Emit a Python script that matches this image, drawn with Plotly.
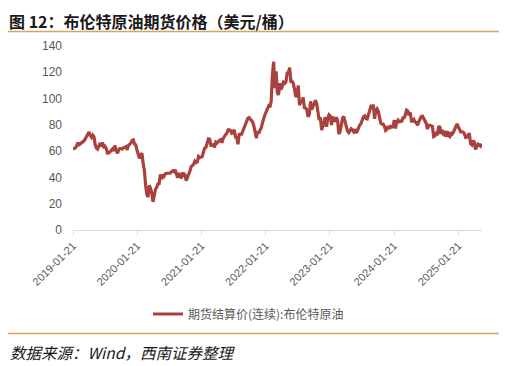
import pandas as pd
import plotly.graph_objects as go

# Weekly Brent futures settlement (USD/bbl), week starting 2019-01-21
start_date = "2019-01-21"
prices = [
    # 2019
    61.5, 62.0, 62.5, 64.0, 66.5, 65.0, 65.8, 67.0, 67.5, 67.8, 69.5, 71.0, 71.9, 74.5, 72.0, 70.6,
    72.2, 71.0, 65.0, 62.3, 61.5, 64.8, 66.2, 63.5, 66.7, 62.5, 63.5, 61.9, 58.5, 58.6, 59.3, 60.4,
    61.5, 60.2, 64.3, 61.9, 58.4, 60.5, 62.0, 62.0, 61.7, 62.5, 63.3, 63.4, 61.0, 64.4, 65.2, 66.1,
    68.2, 68.6,
    # 2020
    65.4, 64.8, 60.7, 58.2, 54.5, 57.3, 58.5, 50.5, 45.3, 33.9, 27.0, 25.0, 34.1, 31.5, 28.1, 21.4,
    26.4, 31.0, 32.5, 35.1, 35.3, 42.3, 38.7, 42.2, 41.0, 42.8, 43.2, 43.1, 43.3, 43.3, 44.4, 45.0,
    44.4, 45.8, 42.7, 39.8, 43.2, 41.9, 39.3, 42.9, 42.9, 41.8, 37.5, 39.5, 42.8, 44.9, 48.2, 49.3,
    50.0, 52.3, 51.3, 51.8,
    # 2021
    55.9, 55.1, 55.4, 55.9, 59.3, 62.4, 62.9, 66.1, 69.4, 69.2, 64.5, 64.6, 64.9, 62.9, 66.8, 66.1,
    67.3, 68.3, 68.7, 66.4, 69.6, 71.9, 72.7, 73.5, 76.2, 76.2, 75.6, 73.6, 74.1, 76.3, 70.7, 70.6,
    65.2, 72.7, 72.6, 72.9, 75.3, 78.1, 79.3, 82.4, 84.9, 85.5, 84.4, 82.7, 82.2, 78.9, 72.7, 69.9,
    75.2, 73.5, 76.1, 77.8,
    # 2022
    81.8, 86.1, 87.9, 90.0, 93.3, 94.4, 93.5, 97.9, 118.1, 128.0, 107.9, 120.7, 104.4, 102.8, 111.7, 106.7,
    109.3, 112.4, 111.6, 112.6, 119.4, 119.7, 123.6, 113.1, 113.1, 111.6, 107.0, 101.2, 103.2, 110.0, 94.9, 98.2,
    96.7, 100.9, 93.0, 92.8, 91.4, 86.2, 88.0, 97.9, 91.6, 93.5, 95.8, 98.6, 96.0, 87.6, 83.6, 85.6,
    76.1, 79.0, 84.0, 85.9,
    # 2023
    78.6, 85.3, 87.6, 86.7, 79.9, 86.4, 83.0, 83.2, 85.8, 82.8, 73.0, 75.0, 79.8, 85.1, 86.3, 81.7,
    79.5, 75.3, 74.2, 75.6, 77.0, 76.1, 74.8, 76.6, 73.9, 75.4, 78.5, 79.9, 81.1, 84.9, 86.2, 86.8,
    84.8, 84.5, 88.6, 90.7, 93.9, 93.3, 95.3, 84.6, 90.9, 92.2, 90.5, 84.9, 81.4, 80.6, 80.6, 78.9,
    75.8, 76.6, 79.1, 77.0,
    # 2024
    78.8, 78.3, 78.6, 83.6, 77.3, 82.2, 83.5, 81.6, 83.6, 82.1, 85.3, 85.4, 87.5, 91.2, 90.5, 87.3,
    89.5, 82.8, 82.8, 84.0, 82.1, 81.6, 79.6, 82.6, 85.2, 86.4, 86.5, 85.0, 82.6, 81.1, 76.8, 79.7,
    79.7, 79.0, 78.8, 71.1, 71.6, 74.5, 72.0, 78.1, 79.0, 73.1, 76.1, 73.1, 73.9, 71.0, 75.2, 71.8,
    71.1, 74.5, 72.9, 74.2, 76.5,
    # 2025
    79.8, 80.8, 78.5, 76.8, 74.7, 74.7, 74.4, 73.2, 70.4, 70.6, 72.2, 73.6, 65.6, 64.8, 68.0, 66.9,
    61.3, 63.9, 65.4, 64.8, 63.9, 65.6,
]
dates = pd.date_range(start_date, periods=len(prices), freq="7D")

tick_vals = ["2019-01-21", "2020-01-21", "2021-01-21", "2022-01-21",
             "2023-01-21", "2024-01-21", "2025-01-21"]
y_ticks = [0, 20, 40, 60, 80, 100, 120, 140]
series_name = "期货结算价(连续):布伦特原油"

line_color = "#A9423E"
gold = "#D9A55B"
grey = "#595959"

fig = go.Figure()
fig.add_trace(go.Scatter(x=dates, y=prices, mode="lines", name=series_name,
                         line=dict(color=line_color, width=3.2)))

# page has an 8px body margin; figure pixel = page pixel - 8
OFF = 8
W, H = 507 - OFF, 366 - OFF
L = 73 - OFF
R = W - (482 - OFF)
T = 46 - OFF
B = H - (230 - OFF)
pw = W - L - R
ph = H - T - B

def px_x(p):
    return (p - OFF - L) / pw

def px_y(p):
    return (H - B - (p - OFF)) / ph

fig.update_layout(
    width=W, height=H,
    margin=dict(l=L, r=R, t=T, b=B),
    paper_bgcolor="white", plot_bgcolor="white",
    font=dict(family="Noto Sans CJK SC, Liberation Sans, sans-serif", color=grey, size=12),
    showlegend=True,
    legend=dict(orientation="h", x=px_x(148), y=px_y(314), xanchor="left", yanchor="middle",
                font=dict(size=12, color=grey), bgcolor="rgba(0,0,0,0)"),
    xaxis=dict(type="date", range=["2019-01-21", "2025-06-04"],
               tickvals=tick_vals, ticktext=tick_vals, tickangle=-45,
               showgrid=False, zeroline=False, showline=True, linecolor="#D9D9D9", linewidth=1,
               ticks="outside", ticklen=4, tickcolor="#D9D9D9",
               tickfont=dict(family="Liberation Sans, Arial, sans-serif", size=11, color=grey)),
    yaxis=dict(range=[0, 140], tickvals=y_ticks, showgrid=False, zeroline=False,
               showline=False, ticks="", ticklabelstandoff=10,
               tickfont=dict(family="Liberation Sans, Arial, sans-serif", size=12, color=grey)),
    shapes=[
        dict(type="line", xref="paper", yref="paper", x0=px_x(5), x1=px_x(502),
             y0=px_y(31.5), y1=px_y(31.5), line=dict(color=gold, width=1.5)),
        dict(type="line", xref="paper", yref="paper", x0=px_x(5), x1=px_x(502),
             y0=px_y(333.5), y1=px_y(333.5), line=dict(color=gold, width=1.5)),
    ],
    annotations=[
        dict(text="<b>图 12：布伦特原油期货价格（美元/桶）</b>", xref="paper", yref="paper",
             x=px_x(8), y=px_y(OFF), xanchor="left", yanchor="top", showarrow=False,
             borderpad=0,
             font=dict(family="Noto Sans CJK SC", size=16, color="#1a1a1a")),
        dict(text="<i>数据来源：Wind，西南证券整理</i>", xref="paper", yref="paper",
             x=px_x(8), y=px_y(352), xanchor="left", yanchor="middle", showarrow=False,
             font=dict(family="Noto Sans CJK SC", size=15.5, color="#1a1a1a")),
    ],
)

fig.write_html("out.html")
